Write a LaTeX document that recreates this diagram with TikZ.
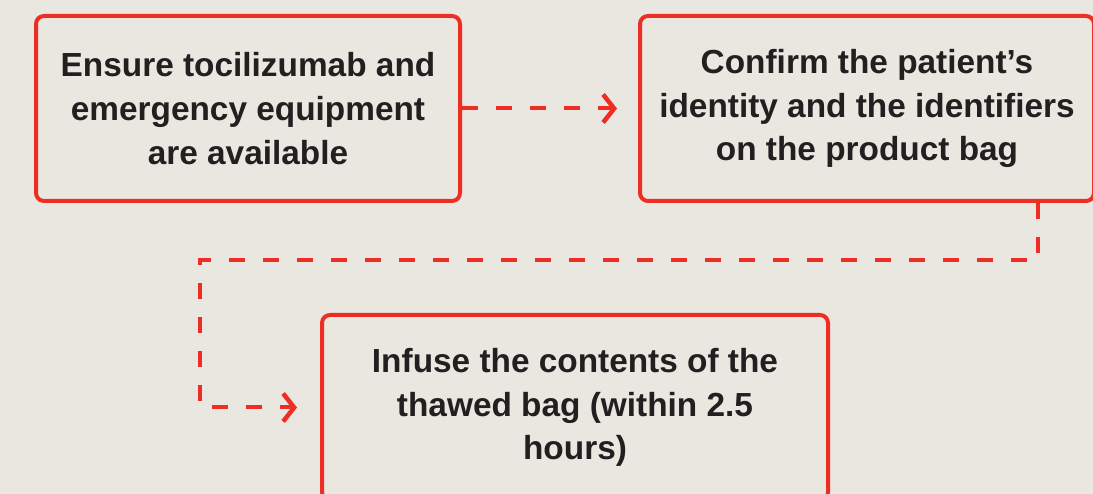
\documentclass[tikz,border=0pt]{standalone}
\usepackage{fontspec}
\setmainfont{Liberation Sans}
\usetikzlibrary{arrows.meta}
\definecolor{flowred}{HTML}{EE2E24}
\definecolor{bgbeige}{HTML}{EAE6E0}
\definecolor{inkgray}{HTML}{231F20}
\begin{document}
\begin{tikzpicture}[>={Straight Barb[length=11bp,width=28bp,line width=4.5bp]},line join=bevel,
  stepbox/.style={draw=flowred,line width=4bp,rounded corners=8bp,minimum height=185bp,inner sep=0pt,
    align=center,text=inkgray,font=\fontsize{33.5}{44}\selectfont\bfseries},
  flow/.style={flowred,line width=4bp,line join=miter,dash pattern=on 16bp off 18bp,->}]
%%
\fill [bgbeige] (0bp,0bp) rectangle (1093bp,494bp);
\clip (0bp,0bp) rectangle (1093bp,494bp);
\node (node_ensure) at (248bp,385.5bp) [stepbox,minimum width=424bp] {Ensure tocilizumab and\\emergency equipment\\are available};
  \node (node_confirm) at (867bp,385.5bp) [stepbox,minimum width=454bp] {Confirm the patient’s\\identity and the identifiers\\on the product bag};
  \node (node_infuse) at (575bp,86.5bp) [stepbox,minimum width=506bp] {Infuse the contents of the\\thawed bag (within 2.5\\hours)};
  \coordinate (drop) at (1038bp,234bp);
  \coordinate (turn) at (200bp,234bp);
  \draw [flow] (node_ensure.east) -- ([xshift=-21bp]node_confirm.west);
  \draw [flow] (node_confirm.south -| drop) -- (drop) -- (turn) |- ([xshift=-23bp]node_infuse.west);
%
\end{tikzpicture}
\end{document}
